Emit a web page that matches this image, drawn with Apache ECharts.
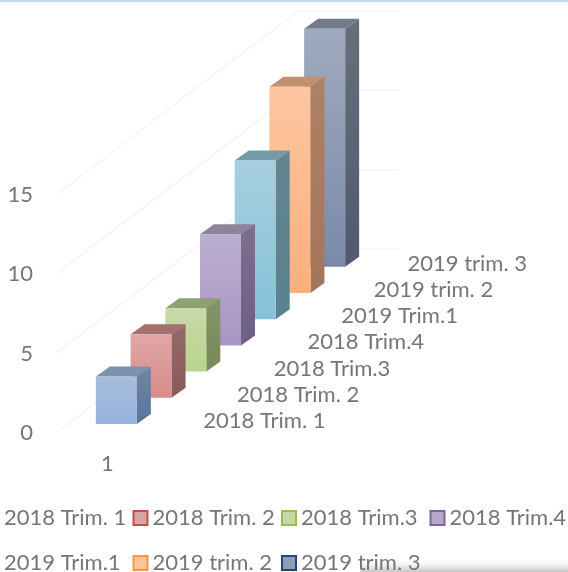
<!DOCTYPE html>
<html>
<head>
<meta charset="utf-8">
<style>
  html, body { margin: 0; padding: 0; background: #fff; }
  #chart { width: 568px; height: 572px; }
</style>
<script src="https://cdn.jsdelivr.net/npm/echarts@6/dist/echarts.min.js"></script>
</head>
<body>
<div id="chart"></div>
<script>
const categories = ['2018 Trim. 1', '2018 Trim. 2', '2018 Trim.3', '2018 Trim.4', '2019 Trim.1', '2019 trim. 2', '2019 trim. 3'];
const values = [3, 4, 4, 7, 10, 13, 15];
const yTicks = [0, 5, 10, 15];

// top of front face, bottom of front face, side top, side bottom, cap, legend fill and border
const frontTop = ['#a9bcda', '#e0a7a5', '#c8d9a9', '#baafd0', '#a7cfe0', '#fdc6a0', '#a0aabe'];
const frontBottom = ['#94b3df', '#d98b89', '#b8d48e', '#a995c4', '#85c2d8', '#fcae7c', '#7a8aa9'];
const sideTop = ['#6f85a5', '#946a69', '#84946a', '#7c6f8e', '#658590', '#ad8163', '#676f7d'];
const sideBottom = ['#5b7599', '#8a5958', '#778a58', '#6d5f86', '#568290', '#a4755a', '#4f5a6e'];
const capColor = ['#7a91b0', '#a5716f', '#8da172', '#8f8399', '#739aa7', '#c0926f', '#717b8a'];
const legendFill = ['#a9bcda', '#d9a5a4', '#c5d8a5', '#b5a8cc', '#a5cfe0', '#fdc39c', '#8f9cb5'];
const legendBorder = ['#4f81bd', '#c0504d', '#9bbb59', '#8064a2', '#4bacc6', '#f79646', '#1f497d'];

const FONT = '"Lato", "Carlito", sans-serif';
const FONT_SIZE = 22;
const TEXT_COLOR = '#767676';

// oblique projection of the depth axis, in pixels per category
const DEPTH_Y = 26.2;
const BAR_W = 41;
const SIDE_X = 14;
const SIDE_Y = 10;
const FRONT_Y = 9;

const chart = echarts.init(document.getElementById('chart'));

const renderBar = (params, api) => {
  const i = api.value(0);
  const base = api.coord([i, 0]);
  const top = api.coord([i, api.value(1)]);
  const shift = FRONT_Y + DEPTH_Y * i;
  const x0 = base[0] - BAR_W / 2;
  const x1 = x0 + BAR_W;
  const yb = base[1] - shift;
  const yt = top[1] - shift;

  const grad = (a, b) => new echarts.graphic.LinearGradient(0, 0, 0, 1, [
    { offset: 0, color: a },
    { offset: 1, color: b }
  ]);

  return {
    type: 'group',
    children: [
      {
        type: 'polygon',
        shape: { points: [[x1, yt], [x1 + SIDE_X, yt - SIDE_Y], [x1 + SIDE_X, yb - SIDE_Y], [x1, yb]] },
        style: { fill: grad(sideTop[i], sideBottom[i]) }
      },
      {
        type: 'polygon',
        shape: { points: [[x0, yt], [x0 + SIDE_X, yt - SIDE_Y], [x1 + SIDE_X, yt - SIDE_Y], [x1, yt]] },
        style: { fill: capColor[i] }
      },
      {
        type: 'rect',
        shape: { x: x0, y: yt, width: BAR_W, height: yb - yt },
        style: { fill: grad(frontTop[i], frontBottom[i]) }
      },
      {
        type: 'text',
        x: base[0] + 148 - 0.9 * i,
        y: base[1] - 12 - DEPTH_Y * i,
        style: {
          text: categories[i],
          fill: TEXT_COLOR,
          font: FONT_SIZE + 'px ' + FONT,
          align: 'center',
          verticalAlign: 'middle'
        }
      }
    ]
  };
};

// pale wall lines: along the left wall, then across the back wall
const renderWall = (params, api) => {
  const p = api.coord([0, api.value(0)]);
  const x0 = 57;
  const y0 = p[1] - 1;
  return {
    type: 'polyline',
    shape: { points: [[x0, y0], [x0 + 241, y0 - 183], [399, y0 - 183]] },
    style: { fill: 'none', stroke: '#f5f5f5', lineWidth: 1.5 }
  };
};

const barSeries = categories.map((name, i) => ({
  name,
  type: 'custom',
  renderItem: renderBar,
  clip: false,
  z: 20 - i,
  encode: { x: 0, y: 1 },
  data: [[i, values[i]]]
}));

// Excel lines the legend up in columns, so one legend per entry
const legends = categories.map((name, i) => ({
  left: -16 + (i % 4) * 148.5,
  top: i < 4 ? 507 : 552,
  padding: 0,
  itemWidth: 14,
  itemHeight: 14,
  selectedMode: false,
  textStyle: { color: TEXT_COLOR, fontSize: FONT_SIZE, fontFamily: FONT },
  data: [{
    name,
    icon: 'rect',
    itemStyle: { color: legendFill[i], borderColor: legendBorder[i], borderWidth: 2 }
  }]
}));

chart.setOption({
  animation: false,
  backgroundColor: '#fff',
  grid: { left: 99, right: 226, top: 195, bottom: 139 },
  xAxis: {
    type: 'category',
    data: categories,
    axisLine: { show: false },
    axisTick: { show: false },
    axisLabel: { show: false },
    splitLine: { show: false }
  },
  yAxis: {
    type: 'value',
    min: 0,
    max: 15,
    interval: 5,
    axisLine: { show: false },
    axisTick: { show: false },
    splitLine: { show: false },
    axisLabel: { margin: 66, padding: [6, 0, 0, 0], color: TEXT_COLOR, fontSize: FONT_SIZE, fontFamily: FONT }
  },
  legend: legends,
  graphic: [
    { type: 'rect', left: 0, top: 0, z: 100, shape: { width: 568, height: 2 }, style: { fill: '#c6d9f1' } },
    {
      type: 'text', left: 101, top: 453, z: 100,
      style: { text: '1', fill: TEXT_COLOR, font: FONT_SIZE + 'px ' + FONT }
    },
    {
      type: 'rect', left: 360, top: 558, z: 0, shape: { width: 208, height: 14 },
      style: {
        fill: new echarts.graphic.LinearGradient(0, 0, 0, 1, [
          { offset: 0, color: 'rgba(255,255,255,0)' },
          { offset: 1, color: 'rgba(190,190,190,0.9)' }
        ])
      }
    }
  ],
  series: [
    {
      type: 'custom',
      name: 'wall',
      renderItem: renderWall,
      clip: false,
      silent: true,
      z: 1,
      encode: { y: 0 },
      data: yTicks.map((t) => [t])
    }
  ].concat(barSeries)
});
</script>
</body>
</html>
